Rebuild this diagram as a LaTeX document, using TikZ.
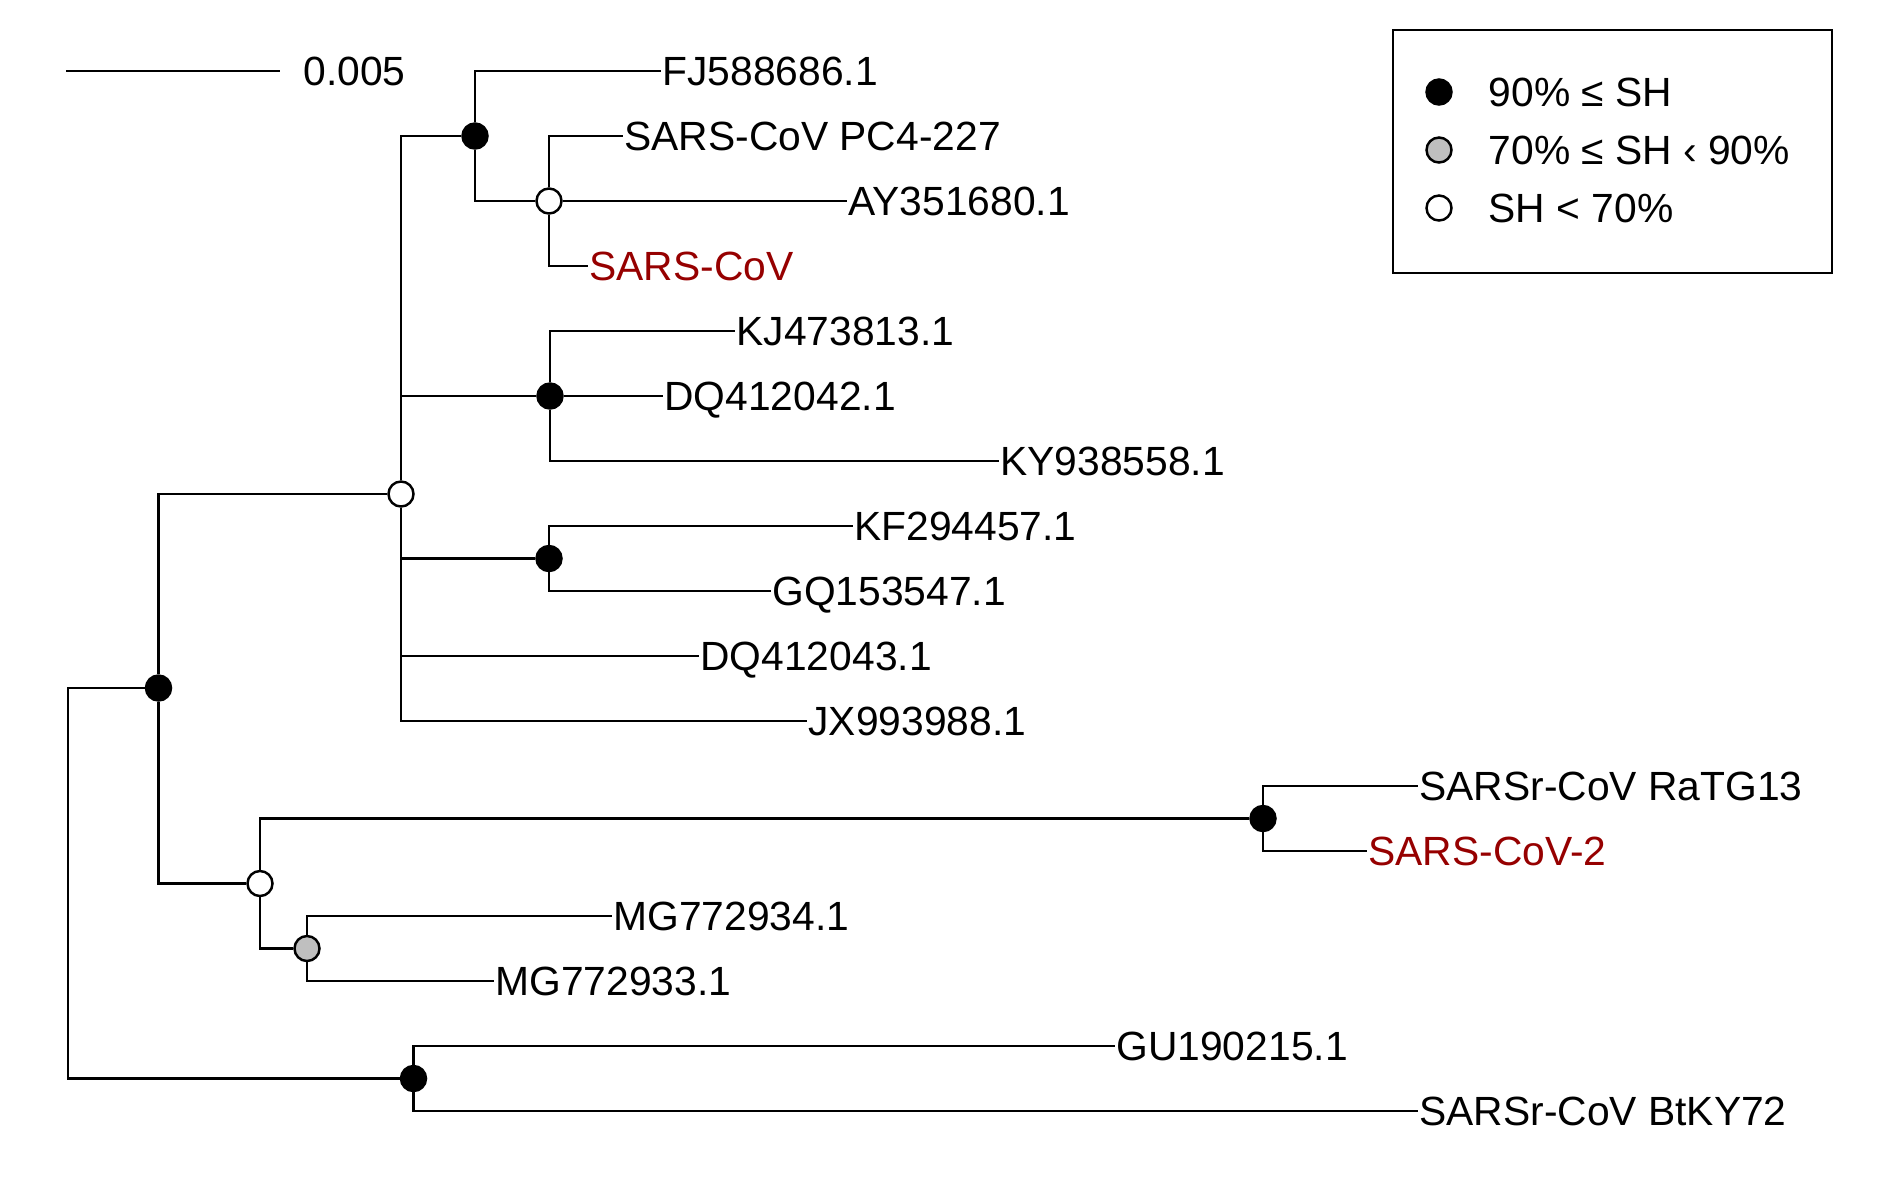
\documentclass[tikz,border=0pt]{standalone}
\usepackage{fontspec}
\setmainfont{Liberation Sans}
\usepackage{xcolor}
\usepackage{tikz}
\usetikzlibrary{positioning}

\definecolor{sarsred}{RGB}{150,0,0}

\begin{document}
\begin{tikzpicture}[x=0.01cm, y=-0.01cm, line width=0.8pt,
    leaf/.style={anchor=west, inner sep=0pt, text height=8.3pt, text depth=0pt,
      font=\fontsize{11.6}{14}\selectfont},
    virus/.style={leaf, text=sarsred},
    shnode/.style={circle, draw=black, inner sep=0pt, minimum size=0.25cm, line width=0.7pt},
    shhigh/.style={shnode, fill=black},
    shmid/.style={shnode, fill=black!25},
    shlow/.style={shnode, fill=white},
    keytext/.style={leaf}]
  \useasboundingbox (0,0) rectangle (1890,1181);

  % Scale bar
  \coordinate (barleft) at (66,71);
  \coordinate (barright) at (280,71);
  \draw (barleft) -- (barright);
  \node[leaf, right=0.22cm of barright] (barlabel) {0.005};

  % Leaves
  \node[leaf] (fj) at (661,71) {FJ588686.1};
  \node[leaf] (pc4) at (623,136) {SARS-CoV PC4-227};
  \node[leaf] (ay) at (847,201) {AY351680.1};
  \node[virus] (sars) at (588,266) {SARS-CoV};
  \node[leaf] (kj) at (735,331) {KJ473813.1};
  \node[leaf] (dq2) at (663,396) {DQ412042.1};
  \node[leaf] (ky) at (999,461) {KY938558.1};
  \node[leaf] (kf) at (853,526) {KF294457.1};
  \node[leaf] (gq) at (771,591) {GQ153547.1};
  \node[leaf] (dq3) at (699,656) {DQ412043.1};
  \node[leaf] (jx) at (807,721) {JX993988.1};
  \node[leaf] (ratg) at (1418,786) {SARSr-CoV RaTG13};
  \node[virus] (sars2) at (1367,851) {SARS-CoV-2};
  \node[leaf] (mg4) at (612,916) {MG772934.1};
  \node[leaf] (mg3) at (494,981) {MG772933.1};
  \node[leaf] (gu) at (1115,1046) {GU190215.1};
  \node[leaf] (btky) at (1418,1111) {SARSr-CoV BtKY72};

  % Inner nodes (SH support)
  \coordinate (root) at (68,883);
  \node[shhigh] (nA) at (475,136) {};
  \node[shlow] (nB) at (549,201) {};
  \node[shlow] (nC) at (401,494) {};
  \node[shhigh] (nD) at (550,396) {};
  \node[shhigh] (nE) at (549,558.5) {};
  \node[shhigh] (nF) at (158.5,688) {};
  \node[shlow] (nG) at (260,883.5) {};
  \node[shhigh] (nH) at (1263,818.5) {};
  \node[shmid] (nI) at (307,948.5) {};
  \node[shhigh] (nJ) at (413.5,1078.5) {};

  % Branches
  \draw (root) |- (nF);
  \draw (root) |- (nJ);
  \draw (nF) |- (nC);
  \draw (nF) |- (nG);
  \draw (nC) |- (nA);
  \draw (nC) |- (nD);
  \draw (nC) |- (nE);
  \draw (nC) |- (dq3);
  \draw (nC) |- (jx);
  \draw (nA) |- (fj);
  \draw (nA) |- (nB);
  \draw (nB) |- (pc4);
  \draw (nB) -- (ay);
  \draw (nB) |- (sars);
  \draw (nD) |- (kj);
  \draw (nD) -- (dq2);
  \draw (nD) |- (ky);
  \draw (nE) |- (kf);
  \draw (nE) |- (gq);
  \draw (nG) |- (nH);
  \draw (nG) |- (nI);
  \draw (nH) |- (ratg);
  \draw (nH) |- (sars2);
  \draw (nI) |- (mg4);
  \draw (nI) |- (mg3);
  \draw (nJ) |- (gu);
  \draw (nJ) |- (btky);

  % Legend
  \draw (1393,30) rectangle (1832,273);
  \node[shhigh] (keyhigh) at (1439,92) {};
  \node[shmid] (keymid) at (1439,150) {};
  \node[shlow] (keylow) at (1439,208) {};
  \node[keytext, right=0.345cm of keyhigh] (keyhightext) {90\% ≤ SH};
  \node[keytext, right=0.345cm of keymid] (keymidtext) {70\% ≤ SH ‹ 90\%};
  \node[keytext, right=0.345cm of keylow] (keylowtext) {SH < 70\%};
\end{tikzpicture}
\end{document}
